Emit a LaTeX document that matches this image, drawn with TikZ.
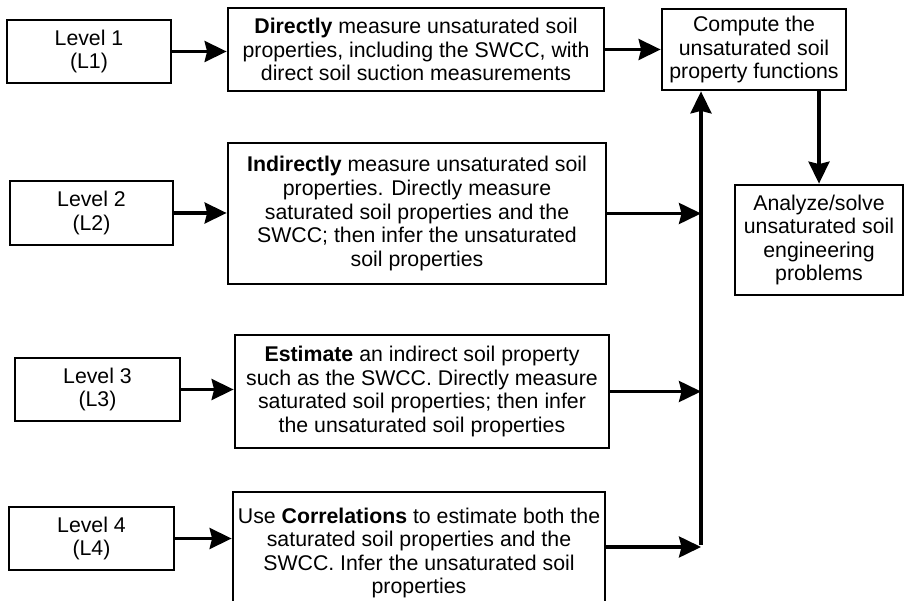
\documentclass[tikz,border=0pt]{standalone}
\usepackage{fontspec}
\setmainfont{Liberation Sans}
\usetikzlibrary{arrows.meta}
\newcommand{\boxfont}{\fontsize{21.3}{23.6}\selectfont}
\begin{document}
\begin{tikzpicture}[x=1pt,y=-1pt,
  box/.style={draw, line width=2.8pt, inner sep=0pt, align=center, font=\boxfont},
  conn/.style={line width=3.2pt, -{Stealth[length=22pt,width=21pt,inset=2.5pt]}}]
\useasboundingbox (0,0) rectangle (905,601);
% level boxes
\node[box, minimum width=164, minimum height=63] (l1) at (89,51.5) {Level 1\\(L1)};
\node[box, minimum width=163, minimum height=64] (l2) at (91.5,213) {Level 2\\(L2)};
\node[box, minimum width=165, minimum height=63] (l3) at (97.5,389.5) {Level 3\\(L3)};
\node[box, minimum width=165, minimum height=63] (l4) at (91.5,538.5) {Level 4\\(L4)};
% description boxes
\node[box, minimum width=376, minimum height=83] (d1) at (416,49.5)
  {\textbf{Directly} measure unsaturated soil\\properties, including the SWCC, with\\direct soil suction measurements};
\node[box, minimum width=378, minimum height=141] (i2) at (417,213.5)
  {\textbf{Indirectly} measure unsaturated soil\\properties. Directly measure\\saturated soil properties and the\\SWCC; then infer the unsaturated\\soil properties};
\node[box, minimum width=374, minimum height=113] (e3) at (422,391.5)
  {\textbf{Estimate} an indirect soil property\\such as the SWCC. Directly measure\\saturated soil properties; then infer\\the unsaturated soil properties};
\node[box, minimum width=372, minimum height=122] (c4) at (419,553)
  {Use \textbf{Correlations} to estimate both the\\saturated soil properties and the\\SWCC. Infer the unsaturated soil\\properties};
% right boxes
\node[box, minimum width=184, minimum height=81] (c) at (754,49.5)
  {Compute the\\unsaturated soil\\property functions};
\node[box, minimum width=168, minimum height=110] (a) at (819,240)
  {Analyze/solve\\unsaturated soil\\engineering\\problems};
% connectors
\coordinate (j4) at (701,547);
\draw[conn] (l1.east) -- (l1.east -| d1.west);
\draw[conn] (d1.east) -- (d1.east -| c.west);
\draw[conn] (c.south -| a.north) -- (a.north);
\draw[conn] (l2.east) -- (l2.east -| i2.west);
\draw[conn] (l3.east) -- (l3.east -| e3.west);
\draw[conn] (l4.east) -- (l4.east -| c4.west);
\draw[conn] (i2.east) -- (i2.east -| j4);
\draw[conn] (e3.east) -- (e3.east -| j4);
\draw[conn] (c4.east |- j4) -- (j4);
\draw[conn] ([yshift=1.6pt]j4) -- (c.south -| j4);
\end{tikzpicture}
\end{document}
